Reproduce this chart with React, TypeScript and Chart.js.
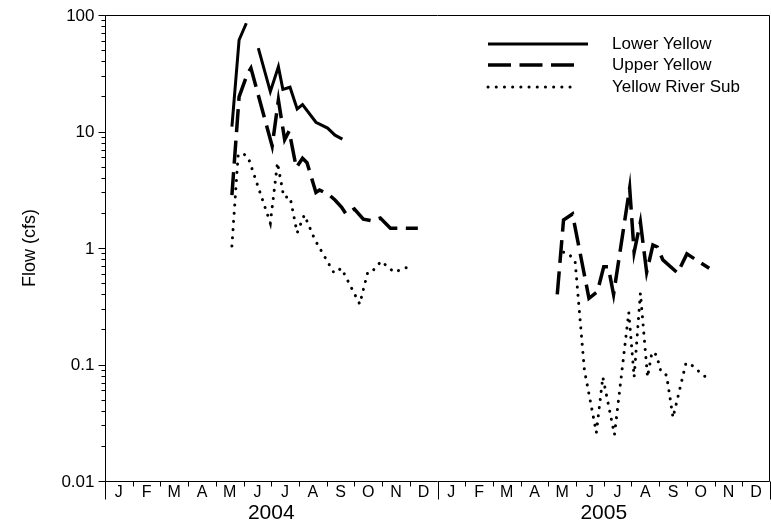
import { useEffect, useRef } from 'react';
import { Chart, registerables } from 'chart.js';

Chart.register(...registerables);

const FONT = '"Liberation Sans", Arial, Helvetica, sans-serif';

// Axis text
const monthLabels = ['J', 'F', 'M', 'A', 'M', 'J', 'J', 'A', 'S', 'O', 'N', 'D'];
const yearLabels = ['2004', '2005'];
const yDecades = [0.01, 0.1, 1, 10, 100];
const yTickLabels = ['0.01', '0.1', '1', '10', '100'];
const yTitle = 'Flow (cfs)';

// Lower Yellow (solid)
const lowerYellowDates = [
  '2004-05-19', '2004-05-27', '2004-06-04', '2004-06-10', '2004-06-17', '2004-06-30',
  '2004-07-09', '2004-07-14', '2004-07-22', '2004-07-30', '2004-08-05', '2004-08-20',
  '2004-09-02', '2004-09-10', '2004-09-18',
];
const lowerYellowFlow = [
  11, 61, 85, null, 52, 22,
  36, 23, 24, 15.6, 17, 12,
  10.7, 9.3, 8.6,
];

// Upper Yellow (dashed)
const upperYellowDates = [
  '2004-05-19', '2004-05-27', '2004-06-05', '2004-06-09', '2004-07-02', '2004-07-09',
  '2004-07-16', '2004-07-21', '2004-07-29', '2004-08-05', '2004-08-10', '2004-08-20',
  '2004-08-24', '2004-09-04', '2004-09-10', '2004-09-17', '2004-09-22', '2004-10-01',
  '2004-10-11', '2004-10-21', '2004-10-30', '2004-11-10', '2004-12-10',
  '2005-03-01',
  '2005-05-11', '2005-05-18', '2005-05-28', '2005-06-15', '2005-06-24', '2005-07-01',
  '2005-07-06', '2005-07-12', '2005-07-30', '2005-08-04', '2005-08-11', '2005-08-18',
  '2005-08-25', '2005-08-30', '2005-09-05', '2005-09-21', '2005-10-01', '2005-10-26',
];
const upperYellowFlow = [
  2.85, 19.8, 31, 35, 7.5, 18.6,
  8.5, 10.1, 4.9, 5.9, 5.4, 3.0,
  3.15, 2.85, 2.58, 2.25, 1.96, 2.16,
  1.77, 1.71, 1.81, 1.48, 1.48,
  null,
  0.4, 1.74, 1.96, 0.37, 0.42, 0.69,
  0.69, 0.4, 3.27, 0.92, 1.67, 0.62,
  1.06, 1.02, 0.79, 0.61, 0.89, 0.67,
];

// Yellow River Sub (dotted)
const subDates = [
  '2004-05-19', '2004-05-26', '2004-05-31', '2004-06-06', '2004-06-30', '2004-07-08',
  '2004-07-15', '2004-07-22', '2004-07-30', '2004-08-07', '2004-08-19', '2004-09-09',
  '2004-09-17', '2004-10-07', '2004-10-16', '2004-10-21', '2004-10-31', '2004-11-14',
  '2004-12-02',
  '2005-03-01',
  '2005-05-18', '2005-05-24', '2005-05-31', '2005-06-10', '2005-06-23', '2005-06-30',
  '2005-07-13', '2005-07-29', '2005-08-04', '2005-08-11', '2005-08-19', '2005-08-24',
  '2005-08-29', '2005-09-03', '2005-09-09', '2005-09-16', '2005-09-30', '2005-10-08',
  '2005-10-16', '2005-10-25',
];
const subFlow = [
  1.04, 6.3, 6.5, 6.0, 1.64, 5.4,
  2.74, 2.74, 1.35, 1.92, 1.17, 0.61,
  0.67, 0.33, 0.62, 0.63, 0.77, 0.62,
  0.7,
  null,
  0.92, 0.89, 0.76, 0.09, 0.026, 0.078,
  0.025, 0.28, 0.078, 0.41, 0.078, 0.128,
  0.121, 0.086, 0.081, 0.035, 0.103, 0.097,
  0.085, 0.075,
];

const legendNames = ['Lower Yellow', 'Upper Yellow', 'Yellow River Sub'];

const SOLID: number[] = [];
const DASHED = [23, 8.5];
const DOTTED = [0.1, 8.1];

// Months elapsed since 1 Jan 2004
function monthIndex(date: string): number {
  const [y, m, d] = date.split('-').map(Number);
  const days = new Date(y, m, 0).getDate();
  return (y - 2004) * 12 + (m - 1) + (d - 1) / days;
}

function toPoints(dates: string[], values: (number | null)[]) {
  return dates.map((d, i) => ({ x: monthIndex(d), y: values[i] }));
}

const framePlugin = {
  id: 'frame',
  afterDraw(chart: any) {
    const { ctx, chartArea: a, scales } = chart;
    const xs = scales.x;
    const ys = scales.y;
    const L = Math.round(a.left) + 0.5;
    const R = Math.round(a.right) - 0.5;
    const T = Math.round(a.top) + 0.5;
    const B = Math.round(a.bottom) + 0.5;

    ctx.save();
    ctx.strokeStyle = '#000';
    ctx.fillStyle = '#000';
    ctx.lineWidth = 1;
    ctx.setLineDash([]);

    // plot frame
    ctx.beginPath();
    ctx.moveTo(L, B);
    ctx.lineTo(L, T);
    ctx.lineTo(R, T);
    ctx.lineTo(R, B);
    ctx.lineTo(L, B);
    ctx.stroke();

    // y ticks: decades and minor 2..9
    ctx.beginPath();
    yDecades.forEach((d) => {
      const y = Math.round(ys.getPixelForValue(d)) + 0.5;
      ctx.moveTo(L - 7, y);
      ctx.lineTo(L, y);
      if (d < 100) {
        for (let k = 2; k <= 9; k++) {
          const ym = Math.round(ys.getPixelForValue(d * k)) + 0.5;
          ctx.moveTo(L - 4, ym);
          ctx.lineTo(L, ym);
        }
      }
    });
    ctx.stroke();

    ctx.font = `17px ${FONT}`;
    ctx.textAlign = 'right';
    ctx.textBaseline = 'middle';
    yDecades.forEach((d, i) => {
      ctx.fillText(yTickLabels[i], L - 11, ys.getPixelForValue(d) + 1);
    });

    // x ticks: month boundaries, longer at year boundaries
    ctx.beginPath();
    for (let i = 0; i <= 24; i++) {
      const x = Math.round(xs.getPixelForValue(i)) + 0.5;
      const len = i % 12 === 0 ? 18 : 5;
      ctx.moveTo(x, B);
      ctx.lineTo(x, B + len);
    }
    ctx.stroke();

    ctx.font = `16px ${FONT}`;
    ctx.textAlign = 'center';
    ctx.textBaseline = 'top';
    for (let i = 0; i < 24; i++) {
      ctx.fillText(monthLabels[i % 12], xs.getPixelForValue(i + 0.5), B + 3);
    }
    ctx.font = `21px ${FONT}`;
    yearLabels.forEach((label, j) => {
      ctx.fillText(label, xs.getPixelForValue(6 + 12 * j), B + 21);
    });

    // y title
    ctx.save();
    ctx.translate(30, (a.top + a.bottom) / 2);
    ctx.rotate(-Math.PI / 2);
    ctx.font = `18px ${FONT}`;
    ctx.textAlign = 'center';
    ctx.textBaseline = 'middle';
    ctx.fillText(yTitle, 0, 0);
    ctx.restore();

    // legend
    const styles = [
      { dash: SOLID, width: 3, cap: 'butt', end: 588 },
      { dash: DASHED, width: 3.5, cap: 'butt', end: 576 },
      { dash: DOTTED, width: 3, cap: 'round', end: 578 },
    ];
    const rows = [44, 65, 87];
    ctx.font = `17px ${FONT}`;
    ctx.textAlign = 'left';
    ctx.textBaseline = 'middle';
    legendNames.forEach((name, i) => {
      const s = styles[i];
      ctx.beginPath();
      ctx.lineWidth = s.width;
      ctx.lineCap = s.cap as CanvasLineCap;
      ctx.setLineDash(s.dash);
      ctx.moveTo(488, rows[i]);
      ctx.lineTo(s.end, rows[i]);
      ctx.stroke();
      ctx.setLineDash([]);
      ctx.fillText(name, 612, rows[i]);
    });

    ctx.restore();
  },
};

export default function App() {
  const canvasRef = useRef<HTMLCanvasElement | null>(null);

  useEffect(() => {
    const canvas = canvasRef.current;
    if (!canvas) return;
    const chart = new Chart(canvas, {
      type: 'line',
      data: {
        datasets: [
          {
            label: legendNames[0],
            data: toPoints(lowerYellowDates, lowerYellowFlow) as any,
            borderColor: '#000',
            borderWidth: 3,
            pointRadius: 0,
            spanGaps: false,
            tension: 0,
          },
          {
            label: legendNames[1],
            data: toPoints(upperYellowDates, upperYellowFlow) as any,
            borderColor: '#000',
            borderWidth: 3.5,
            borderDash: DASHED,
            pointRadius: 0,
            spanGaps: false,
            tension: 0,
          },
          {
            label: legendNames[2],
            data: toPoints(subDates, subFlow) as any,
            borderColor: '#000',
            borderWidth: 3,
            borderDash: DOTTED,
            borderCapStyle: 'round',
            pointRadius: 0,
            spanGaps: false,
            tension: 0,
          },
        ],
      },
      options: {
        responsive: false,
        animation: false,
        events: [],
        layout: { padding: { left: 105, top: 15, right: 1, bottom: 48 } },
        plugins: { legend: { display: false }, tooltip: { enabled: false } },
        scales: {
          x: { type: 'linear', min: 0, max: 24, display: false },
          y: { type: 'logarithmic', min: 0.01, max: 100, display: false },
        },
      },
      plugins: [framePlugin],
    });
    return () => chart.destroy();
  }, []);

  return (
    <div style={{ position: 'fixed', left: 0, top: 0, width: 771, height: 529, background: '#fff' }}>
      <canvas ref={canvasRef} width={771} height={529} />
    </div>
  );
}
